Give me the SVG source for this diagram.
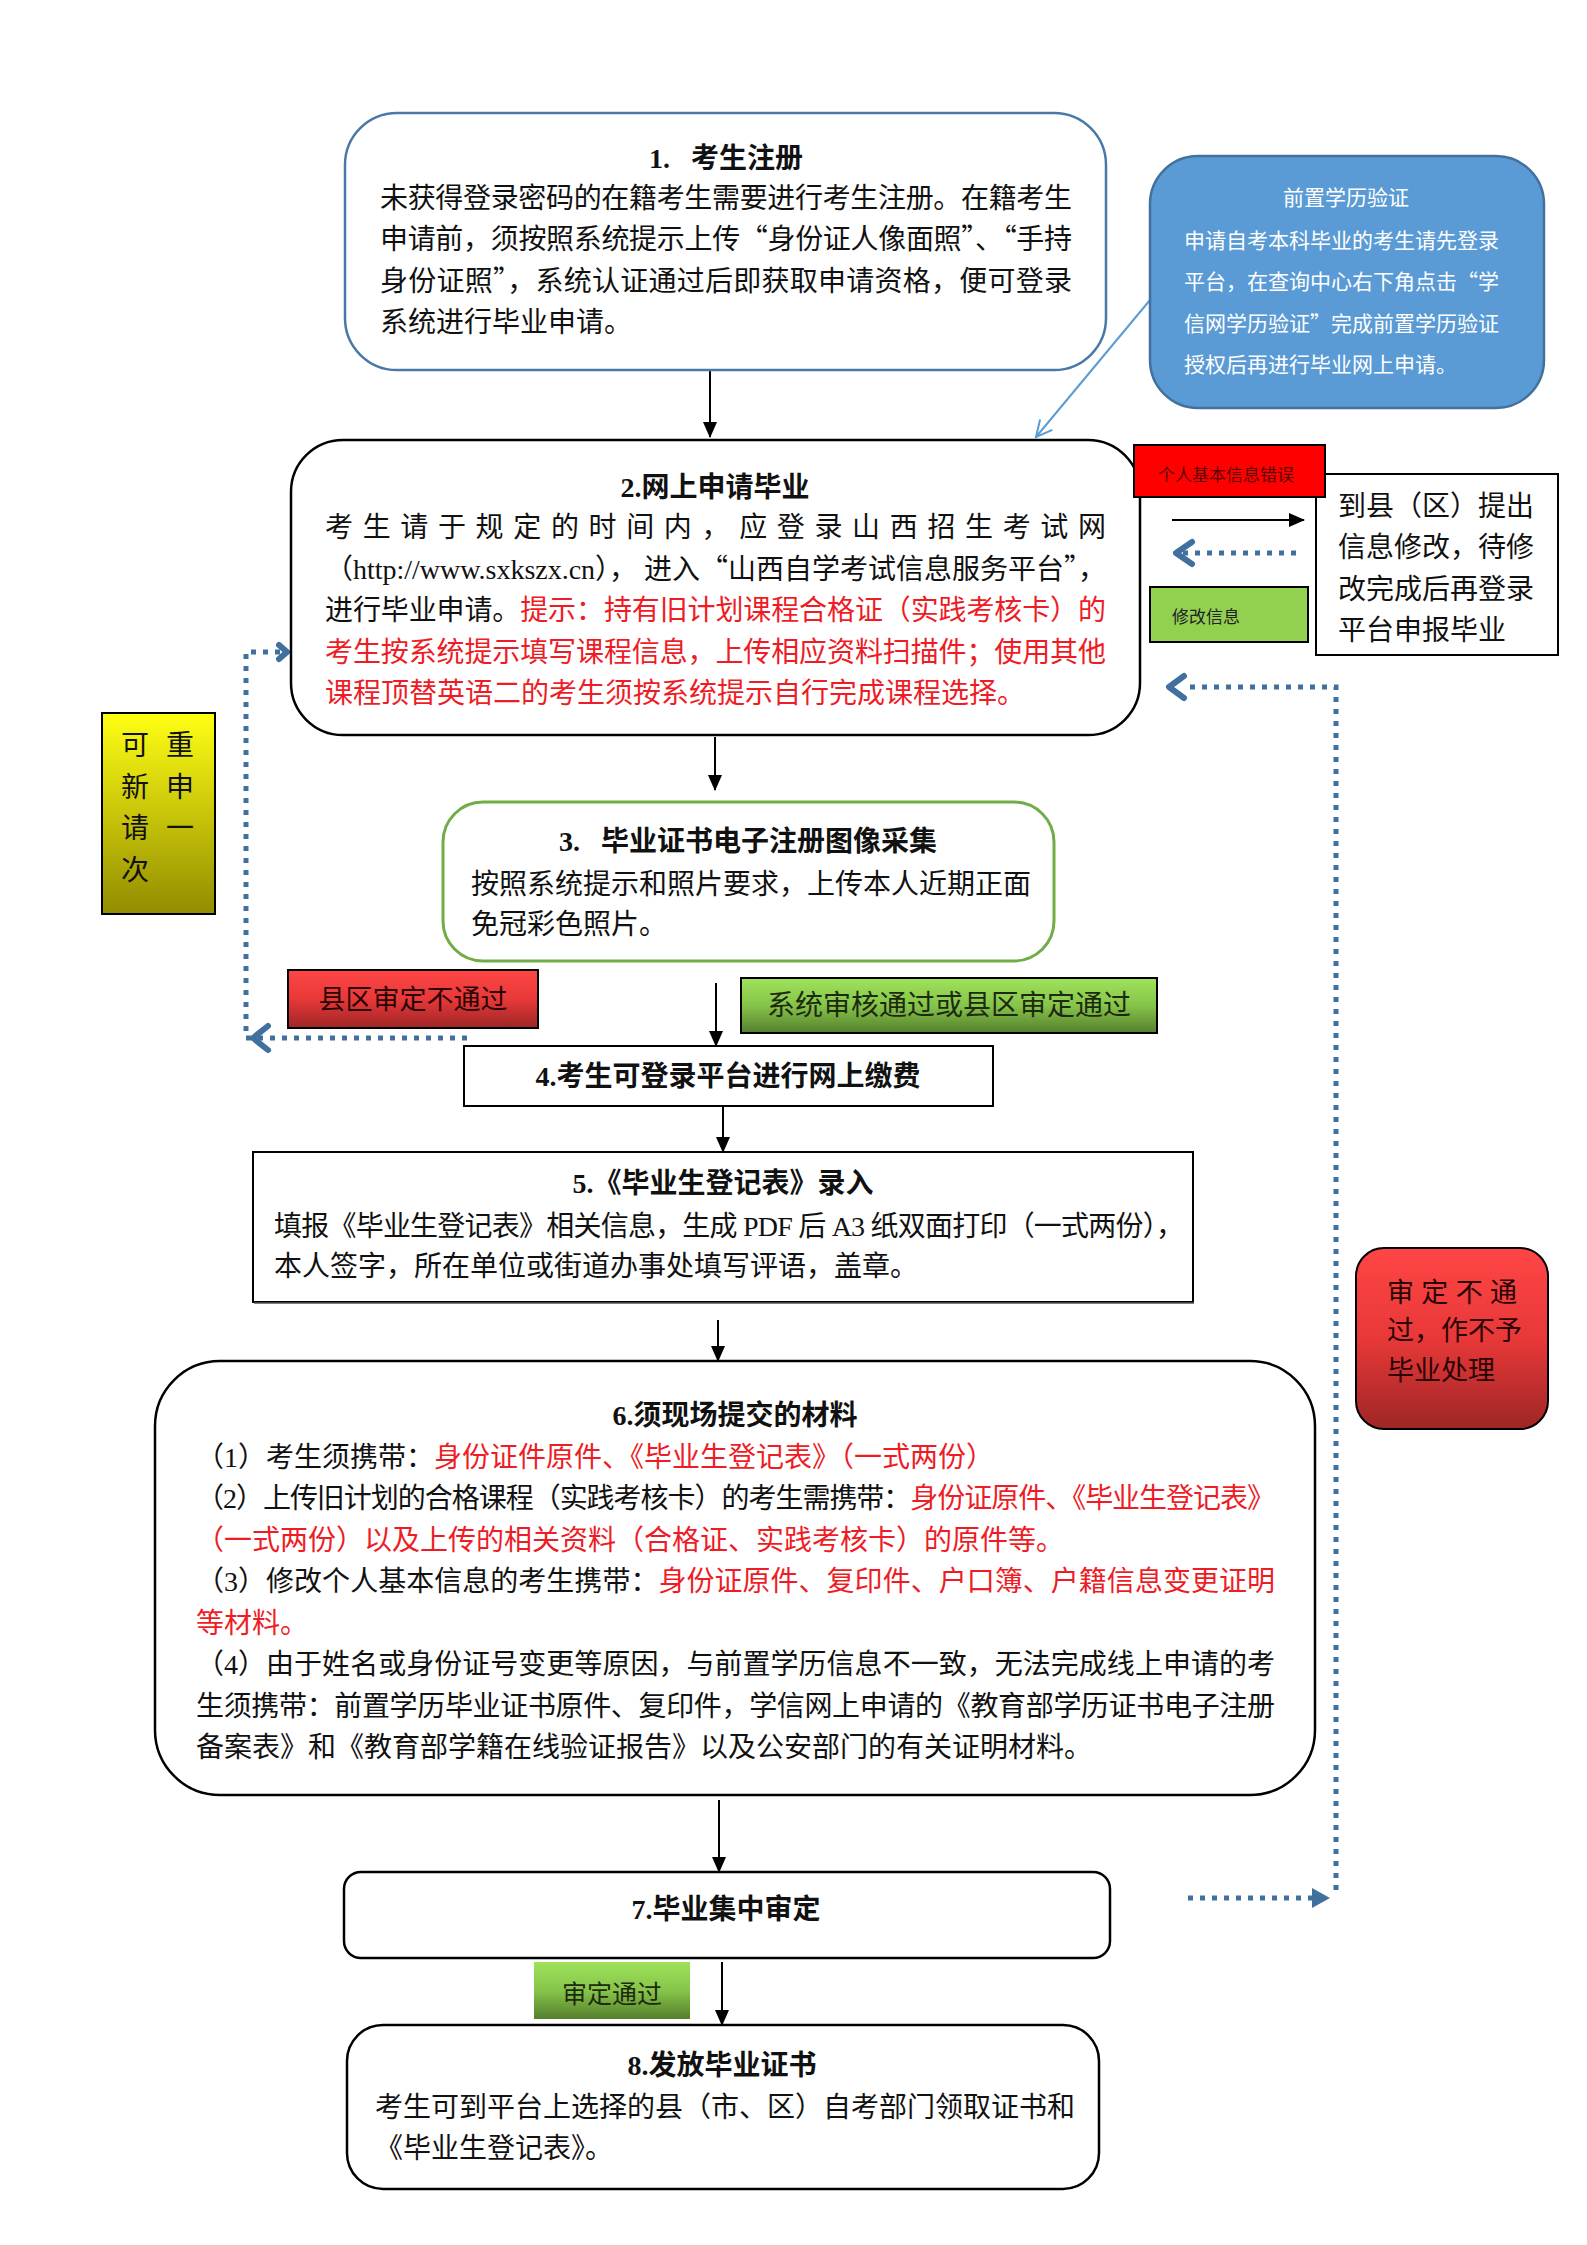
<svg xmlns="http://www.w3.org/2000/svg" width="1587" height="2245" viewBox="0 0 1587 2245">
<style>
text{font-family:'Liberation Serif','Noto Sans CJK SC',serif;font-size:28px;fill:#111}
.t{font-weight:bold;text-anchor:middle}
.r{fill:#ee1c25}
.w{fill:#fff;font-size:21px}
.q{font-family:'Noto Sans CJK SC',sans-serif}
.dot{fill:none;stroke:#41709f;stroke-width:5;stroke-dasharray:5 7}
.chev{fill:none;stroke:#41709f;stroke-width:6;stroke-linecap:round;stroke-linejoin:round}
.ln{stroke:#000;stroke-width:2;fill:none}
</style>
<defs>
<marker id="ah" markerUnits="userSpaceOnUse" markerWidth="16" markerHeight="14" refX="15" refY="7" orient="auto">
<path d="M0,0 L16,7 L0,14 Z" fill="#000"/>
</marker>
<marker id="ob" markerUnits="userSpaceOnUse" markerWidth="20" markerHeight="20" refX="18" refY="10" orient="auto">
<path d="M2,2 L18,10 L2,18" fill="none" stroke="#5b9bd5" stroke-width="2"/>
</marker>
<linearGradient id="gy" x1="0" y1="0" x2="0" y2="1"><stop offset="0" stop-color="#ffff14"/><stop offset="1" stop-color="#928c00"/></linearGradient>
<linearGradient id="gr" x1="0" y1="0" x2="0" y2="1"><stop offset="0" stop-color="#ff4646"/><stop offset="0.5" stop-color="#e83838"/><stop offset="1" stop-color="#9e2626"/></linearGradient>
<linearGradient id="gg" x1="0" y1="0" x2="0" y2="1"><stop offset="0" stop-color="#9ee35a"/><stop offset="0.5" stop-color="#86c44a"/><stop offset="1" stop-color="#557f2c"/></linearGradient>
</defs>
<rect width="1587" height="2245" fill="#fff"/>

<g id="connectors">
<line class="ln" x1="710" y1="370" x2="710" y2="437" marker-end="url(#ah)"/>
<line x1="1150" y1="300" x2="1036" y2="437" stroke="#5b9bd5" stroke-width="2" marker-end="url(#ob)"/>
<line class="ln" x1="715" y1="737" x2="715" y2="790" marker-end="url(#ah)"/>
<line class="ln" x1="716" y1="983" x2="716" y2="1046" marker-end="url(#ah)"/>
<line class="ln" x1="723" y1="1106" x2="723" y2="1152" marker-end="url(#ah)"/>
<line class="ln" x1="718" y1="1320" x2="718" y2="1361" marker-end="url(#ah)"/>
<line class="ln" x1="719" y1="1800" x2="719" y2="1872" marker-end="url(#ah)"/>
<line class="ln" x1="722" y1="1962" x2="722" y2="2025" marker-end="url(#ah)"/>
<line class="ln" x1="1172" y1="520" x2="1304" y2="520" marker-end="url(#ah)"/>
<line class="dot" x1="1296" y1="553" x2="1182" y2="553"/>
<polyline class="chev" points="1192,542 1176,553 1192,564"/>
<polyline class="dot" points="467,1038 246,1038 246,652 280,652"/>
<polyline class="chev" points="268,1026 253,1038 268,1050"/>
<polyline class="chev" points="279,645 287,652 279,659"/>
<polyline class="dot" points="1190,687 1336,687 1336,1895"/>
<polyline class="chev" points="1184,676 1169,687 1184,698"/>
<line class="dot" x1="1188" y1="1898" x2="1316" y2="1898"/>
<path d="M1312,1888 L1330,1898 L1312,1908 Z" fill="#41709f"/>
</g>

<g id="n1">
<rect x="345" y="113" width="761" height="257" rx="52" fill="#fff" stroke="#4a78a8" stroke-width="2.5"/>
<text class="t" x="726" y="168" xml:space="preserve">1.   考生注册</text>
<text x="380" y="208" textLength="692" lengthAdjust="spacing">未获得登录密码的在籍考生需要进行考生注册。在籍考生</text>
<text x="380" y="249" textLength="692" lengthAdjust="spacing">申请前，须按照系统提示上传<tspan class="q">“</tspan>身份证人像面照<tspan class="q">”</tspan>、<tspan class="q">“</tspan>手持</text>
<text x="380" y="291" textLength="692" lengthAdjust="spacing">身份证照<tspan class="q">”</tspan>，系统认证通过后即获取申请资格，便可登录</text>
<text x="380" y="332">系统进行毕业申请。</text>
</g>

<g id="n0">
<rect x="1150" y="156" width="394" height="252" rx="48" fill="#5b9bd5" stroke="#41719c" stroke-width="2.5"/>
<text class="w" x="1346" y="205" text-anchor="middle">前置学历验证</text>
<text class="w" x="1184" y="248">申请自考本科毕业的考生请先登录</text>
<text class="w" x="1184" y="289">平台，在查询中心右下角点击<tspan class="q">“</tspan>学</text>
<text class="w" x="1184" y="331">信网学历验证<tspan class="q">”</tspan>完成前置学历验证</text>
<text class="w" x="1184" y="372">授权后再进行毕业网上申请。</text>
</g>

<g id="n2">
<rect x="291" y="440" width="849" height="295" rx="52" fill="#fff" stroke="#000" stroke-width="2.5"/>
<text class="t" x="715" y="497">2.网上申请毕业</text>
<text x="325" y="537" textLength="781" lengthAdjust="spacing">考生请于规定的时间内，应登录山西招生考试网</text>
<text x="325" y="579" textLength="781" lengthAdjust="spacing">（http://www.sxkszx.cn）， 进入<tspan class="q">“</tspan>山西自学考试信息服务平台<tspan class="q">”</tspan>，</text>
<text x="325" y="620" textLength="781" lengthAdjust="spacing">进行毕业申请。<tspan class="r">提示：持有旧计划课程合格证（实践考核卡）的</tspan></text>
<text class="r" x="325" y="662" textLength="781" lengthAdjust="spacing">考生按系统提示填写课程信息，上传相应资料扫描件；使用其他</text>
<text class="r" x="325" y="703">课程顶替英语二的考生须按系统提示自行完成课程选择。</text>
</g>

<g id="n2b">
<rect x="1316" y="474" width="242" height="181" fill="#fff" stroke="#000" stroke-width="2"/>
<text x="1338" y="516" textLength="196" lengthAdjust="spacing">到县（区）提出</text>
<text x="1338" y="557" textLength="196" lengthAdjust="spacing">信息修改，待修</text>
<text x="1338" y="599" textLength="196" lengthAdjust="spacing">改完成后再登录</text>
<text x="1338" y="640">平台申报毕业</text>
</g>

<g id="lbl-err">
<rect x="1134" y="445" width="191" height="52" fill="#ff0000" stroke="#000" stroke-width="2"/>
<text x="1226" y="481" text-anchor="middle" style="font-size:17px;fill:#5a0000">个人基本信息错误</text>
</g>

<g id="lbl-fix">
<rect x="1150" y="587" width="158" height="55" fill="#92d050" stroke="#000" stroke-width="2"/>
<text x="1172" y="623" style="font-size:17px;fill:#222">修改信息</text>
</g>

<g id="lbl-retry">
<rect x="102" y="713" width="113" height="201" fill="url(#gy)" stroke="#000" stroke-width="2"/>
<g style="font-size:26px" text-anchor="middle">
<text x="135" y="755">可</text><text x="180" y="755">重</text>
<text x="135" y="797">新</text><text x="180" y="797">申</text>
<text x="135" y="838">请</text><text x="180" y="838">一</text>
<text x="135" y="880">次</text>
</g>
</g>

<g id="n3">
<rect x="443" y="802" width="611" height="159" rx="40" fill="#fff" stroke="#70ad47" stroke-width="3"/>
<text class="t" x="748" y="851" xml:space="preserve">3.   毕业证书电子注册图像采集</text>
<text x="471" y="894">按照系统提示和照片要求，上传本人近期正面</text>
<text x="471" y="934">免冠彩色照片。</text>
</g>

<g id="lbl-county-fail">
<rect x="288" y="970" width="250" height="58" fill="url(#gr)" stroke="#000" stroke-width="2"/>
<text x="413" y="1009" text-anchor="middle" style="font-size:27px;fill:#2a0505">县区审定不通过</text>
</g>

<g id="lbl-pass">
<rect x="741" y="978" width="416" height="55" fill="url(#gg)" stroke="#000" stroke-width="2"/>
<text x="949" y="1015" text-anchor="middle" style="fill:#1d2a10">系统审核通过或县区审定通过</text>
</g>

<g id="n4">
<rect x="464" y="1046" width="529" height="60" fill="#fff" stroke="#000" stroke-width="2"/>
<text class="t" x="728" y="1086">4.考生可登录平台进行网上缴费</text>
</g>

<g id="n5">
<rect x="253" y="1152" width="940" height="150" fill="#fff" stroke="#000" stroke-width="2"/>
<line x1="254" y1="1303" x2="1194" y2="1303" stroke="#555" stroke-width="1.5"/>
<text class="t" x="723" y="1193">5.《毕业生登记表》录入</text>
<text x="274" y="1236" textLength="910" lengthAdjust="spacing">填报《毕业生登记表》相关信息，生成 PDF 后 A3 纸双面打印（一式两份），</text>
<text x="274" y="1276">本人签字，所在单位或街道办事处填写评语，盖章。</text>
</g>

<g id="n6">
<rect x="155" y="1361" width="1160" height="434" rx="65" fill="#fff" stroke="#000" stroke-width="2.5"/>
<text class="t" x="735" y="1425">6.须现场提交的材料</text>
<g style="font-size:27px">
<text x="196" y="1467">（1）考生须携带：<tspan class="r">身份证件原件、《毕业生登记表》（一式两份）</tspan></text>
<text x="196" y="1508" textLength="1079" lengthAdjust="spacing">（2）上传旧计划的合格课程（实践考核卡）的考生需携带：<tspan class="r">身份证原件、《毕业生登记表》</tspan></text>
<text class="r" x="196" y="1550">（一式两份）以及上传的相关资料（合格证、实践考核卡）的原件等。</text>
<text x="196" y="1591" textLength="1079" lengthAdjust="spacing">（3）修改个人基本信息的考生携带：<tspan class="r">身份证原件、复印件、户口簿、户籍信息变更证明</tspan></text>
<text class="r" x="196" y="1633">等材料。</text>
<text x="196" y="1674" textLength="1079" lengthAdjust="spacing">（4）由于姓名或身份证号变更等原因，与前置学历信息不一致，无法完成线上申请的考</text>
<text x="196" y="1716" textLength="1079" lengthAdjust="spacing">生须携带：前置学历毕业证书原件、复印件，学信网上申请的《教育部学历证书电子注册</text>
<text x="196" y="1757">备案表》和《教育部学籍在线验证报告》以及公安部门的有关证明材料。</text>
</g>
</g>

<g id="n-reject">
<rect x="1356" y="1248" width="192" height="181" rx="28" fill="url(#gr)" stroke="#000" stroke-width="2"/>
<text x="1387" y="1302" textLength="130" lengthAdjust="spacing" style="font-size:27px;fill:#2a0505">审定不通</text>
<text x="1387" y="1340" style="font-size:27px;fill:#2a0505">过，作不予</text>
<text x="1387" y="1380" style="font-size:27px;fill:#2a0505">毕业处理</text>
</g>

<g id="n7">
<rect x="344" y="1872" width="766" height="86" rx="17" fill="#fff" stroke="#000" stroke-width="2.5"/>
<text class="t" x="726" y="1919">7.毕业集中审定</text>
</g>

<g id="lbl-approved">
<rect x="534" y="1962" width="156" height="57" fill="url(#gg)"/>
<text x="612" y="2003" text-anchor="middle" style="font-size:25px;fill:#1d2a10">审定通过</text>
</g>

<g id="n8">
<rect x="347" y="2025" width="752" height="164" rx="36" fill="#fff" stroke="#000" stroke-width="2.5"/>
<text class="t" x="722" y="2075">8.发放毕业证书</text>
<text x="375" y="2117">考生可到平台上选择的县（市、区）自考部门领取证书和</text>
<text x="375" y="2158">《毕业生登记表》。</text>
</g>
</svg>
